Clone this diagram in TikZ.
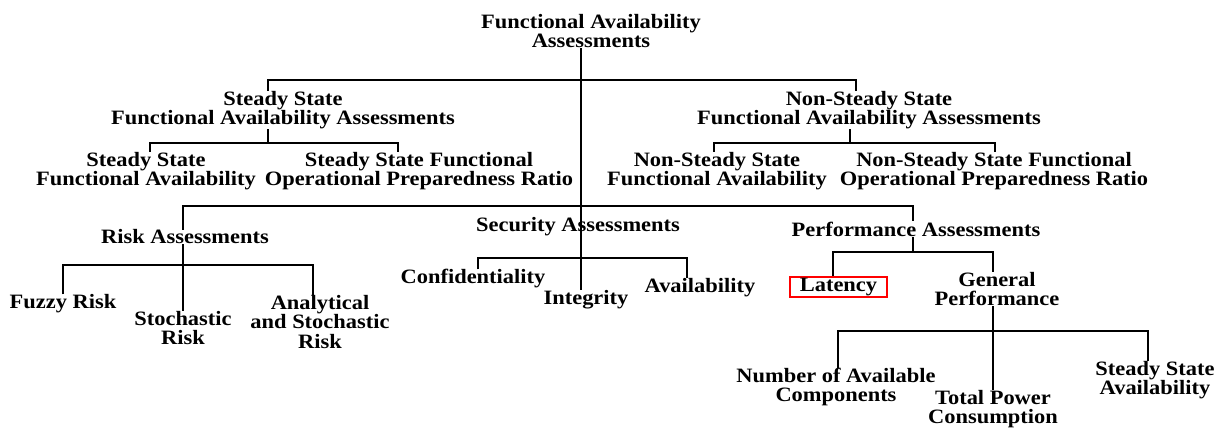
\documentclass[tikz,border=0pt]{standalone}
\usepackage{fontspec}
\setmainfont{Liberation Serif}[FakeStretch=1.1]
\tikzstyle{lbl}=[align=center,inner sep=0pt,
  font=\fontsize{15.3}{14.6}\selectfont\bfseries]
\tikzstyle{wire}=[line width=1.8pt]
\tikzstyle{redbox}=[lbl,draw=red,line width=1.5pt,
  minimum width=72.75pt,minimum height=15pt]

\begin{document}
\begin{tikzpicture}[x=0.75pt,y=-0.75pt]
        \useasboundingbox (0,0) rectangle (1227,428);
        % top levels
        \node[style=lbl] (0) at (591,31) {Functional Availability\\Assessments};
        \node[style=lbl] (1) at (283,110) {Steady State\\Functional Availability Assessments};
        \node[style=lbl] (2) at (869,110) {Non-Steady State\\Functional Availability Assessments};
        \node[style=lbl] (3) at (146,171) {Steady State\\Functional Availability};
        \node[style=lbl] (4) at (419,171) {Steady State Functional\\Operational Preparedness Ratio};
        \node[style=lbl] (5) at (717,171) {Non-Steady State\\Functional Availability};
        \node[style=lbl] (6) at (994,171) {Non-Steady State Functional\\Operational Preparedness Ratio};
        \node[style=lbl] (7) at (185,237) {Risk Assessments};
        \node[style=lbl] (8) at (578,227) {Security Assessments};
        \node[style=lbl] (9) at (916,229) {Performance Assessments};
        % leaves
        \node[style=lbl] (10) at (63,304) {Fuzzy Risk};
        \node[style=lbl] (11) at (183,328) {Stochastic\\Risk};
        \node[style=lbl] (12) at (320,322) {Analytical\\and Stochastic\\Risk};
        \node[style=lbl] (13) at (473,279) {Confidentiality};
        \node[style=lbl] (14) at (586,300) {Integrity};
        \node[style=lbl] (15) at (700,288) {Availability};
        \node[style=redbox] (16) at (838.5,287) {Latency};
        \node[style=lbl] (17) at (997,289) {General\\Performance};
        \node[style=lbl] (18) at (836,387) {Number of Available\\Components};
        \node[style=lbl] (19) at (993,409) {Total Power\\Consumption};
        \node[style=lbl] (20) at (1155,380) {Steady State\\Availability};
        % bus points
        \coordinate (t) at (581,80);
        \coordinate (l1) at (268,80);
        \coordinate (r1) at (856,80);
        \coordinate (s0) at (268,143);
        \coordinate (s1) at (150,143);
        \coordinate (s2) at (398,143);
        \coordinate (n0) at (850,143);
        \coordinate (n1) at (714,143);
        \coordinate (n2) at (995,143);
        \coordinate (l2) at (183,206);
        \coordinate (r2) at (913,206);
        \coordinate (k0) at (183,265);
        \coordinate (k1) at (63,265);
        \coordinate (k2) at (313,265);
        \coordinate (c1) at (478,258);
        \coordinate (c2) at (687,258);
        \coordinate (p0) at (913,252);
        \coordinate (p1) at (833,252);
        \coordinate (p2) at (993,252);
        \coordinate (g0) at (993,331);
        \coordinate (g1) at (838,331);
        \coordinate (g2) at (1148,331);
        % connectors
        \draw[wire] (0.south -| t) to (14.north -| t);
        \draw[wire] (1.north -| l1) -- (l1) -- (r1) -- (2.north -| r1);
        \draw[wire] (1.south -| s0) to (s0);
        \draw[wire] (3.north -| s1) -- (s1) -- (s2) -- (4.north -| s2);
        \draw[wire] (2.south -| n0) to (n0);
        \draw[wire] (5.north -| n1) -- (n1) -- (n2) -- (6.north -| n2);
        \draw[wire] (7.north -| l2) -- (l2) -- (r2) -- (9.north -| r2);
        \draw[wire] (7.south -| k0) to (11.north -| k0);
        \draw[wire] (10.north -| k1) -- (k1) -- (k2) -- (12.north -| k2);
        \draw[wire] (13.north -| c1) -- (c1) -- (c2) -- (15.north -| c2);
        \draw[wire] (9.south -| p0) to (p0);
        \draw[wire] (16.north -| p1) -- (p1) -- (p2) -- (17.north -| p2);
        \draw[wire] (17.south -| g0) to (19.north -| g0);
        \draw[wire] (18.north -| g1) -- (g1) -- (g2) -- (20.north -| g2);
    \end{tikzpicture}
\end{document}
